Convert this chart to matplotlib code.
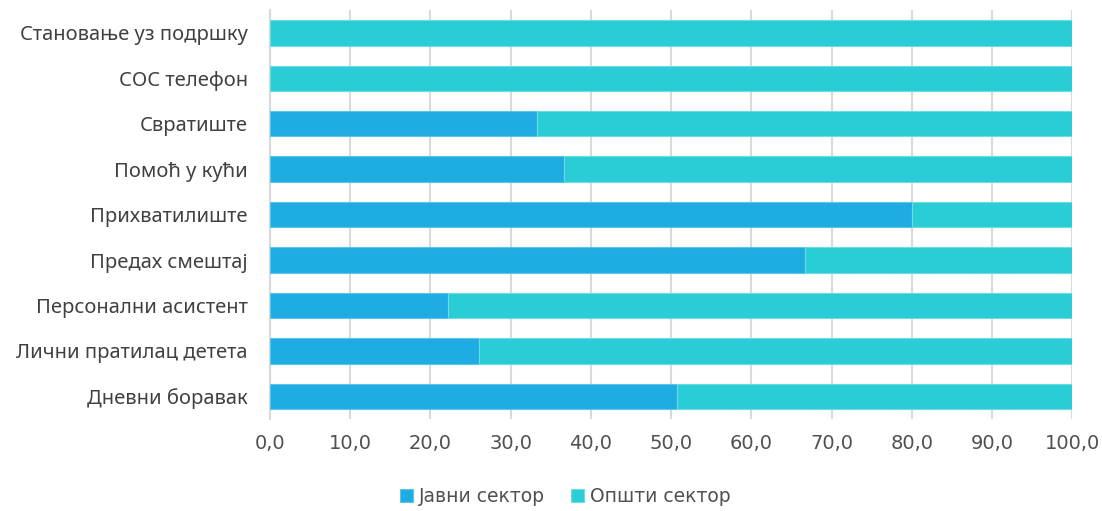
import matplotlib.pyplot as plt
import numpy as np

plt.rcParams['font.family'] = ['Noto Sans', 'DejaVu Sans']

categories = ['Становање уз подршку', 'СОС телефон', 'Свратиште', 'Помоћ у кући',
              'Прихватилиште', 'Предах смештај', 'Персонални асистент',
              'Лични пратилац детета', 'Дневни боравак']
javni = [0.0, 0.0, 33.3, 36.7, 80.0, 66.7, 22.2, 26.1, 50.7]
opsti = [100 - v for v in javni]
series_names = ['Јавни сектор', 'Општи сектор']
ticks = np.arange(0, 101, 10)

c_javni = '#1eace2'
c_opsti = '#29cdd6'

fig = plt.figure(figsize=(11.02, 5.11), dpi=100)
ax = fig.add_axes([0.245, 0.180, 0.728, 0.800])

y = np.arange(len(categories))
ax.barh(y, javni, height=0.56, color=c_javni, edgecolor='#5cc6ea', linewidth=0.8,
        label=series_names[0], zorder=3)
ax.barh(y, opsti, left=javni, height=0.56, color=c_opsti, edgecolor='#6ddbe1',
        linewidth=0.8, label=series_names[1], zorder=3)

ax.set_ylim(len(categories) - 0.5, -0.5)
ax.set_xlim(0, 100)
ax.set_yticks(y)
ax.set_yticklabels(categories, fontsize=14.5, color='#404040')
ax.set_xticks(ticks)
ax.set_xticklabels([f'{t:.1f}'.replace('.', ',') for t in ticks], fontsize=14,
                   color='#505050', family='DejaVu Sans')
ax.tick_params(axis='both', length=0)
ax.tick_params(axis='x', pad=11)
ax.tick_params(axis='y', pad=16)

ax.grid(axis='x', color='#d9d9d9', linewidth=1.5, zorder=0)
ax.grid(axis='y', visible=False)
for s in ['top', 'right', 'bottom']:
    ax.spines[s].set_visible(False)
ax.spines['left'].set_color('#d9d9d9')
ax.spines['left'].set_linewidth(1.5)
ax.spines['left'].set_zorder(1)

handles, labels = ax.get_legend_handles_labels()
fig.legend(handles, labels, loc='center', bbox_to_anchor=(0.513, 0.028), ncol=2,
           frameon=False, prop={'family': 'DejaVu Sans', 'size': 13.5},
           handlelength=0.7, handleheight=0.7, handletextpad=0.3,
           columnspacing=1.4, labelcolor='#505050')

fig.savefig('out.png', dpi=100)
